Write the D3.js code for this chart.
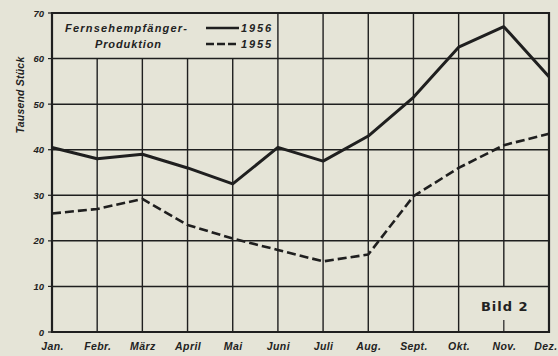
<!DOCTYPE html>
<html>
<head>
<meta charset="utf-8">
<script src="https://cdn.jsdelivr.net/npm/d3@7"></script>
<style>
  html, body { margin: 0; padding: 0; background: #e5e4d7; }
  svg { display: block; }
  text { fill: #222; }
</style>
</head>
<body>
<svg id="chart" width="558" height="356"></svg>
<script>
// Monthly TV receiver production, thousand units
const months = ["Jan.", "Febr.", "März", "April", "Mai", "Juni", "Juli", "Aug.", "Sept.", "Okt.", "Nov.", "Dez."];
const prod1956 = [40.5, 38, 39, 36, 32.5, 40.5, 37.5, 43, 51.5, 62.5, 67, 56];
const prod1955 = [26, 27, 29.2, 23.5, 20.5, 18, 15.5, 17, 29.8, 36, 41, 43.5];
const yTicks = [0, 10, 20, 30, 40, 50, 60, 70];

const svg = d3.select("#chart");
const ink = "#1f1f1f";
const pLeft = 52, pRight = 549, pTop = 13, pBottom = 332;
const labelFont = "Liberation Sans, Arial, sans-serif";

const x = d3.scalePoint().domain(months).range([pLeft, pRight]);
const y = d3.scaleLinear().domain([0, 70]).range([pBottom, pTop]);

const g = svg.append("g");

// legend panel occupies the top band over the first six months
const legendRight = x("Juni");
const legendBottom = y(60);
// caption box in the lower right corner
const boxLeft = x("Okt."), boxTop = y(10);

// horizontal grid lines
g.selectAll("line.h").data(yTicks.filter(d => d > 0 && d < 70)).join("line")
  .attr("x1", pLeft).attr("x2", pRight)
  .attr("y1", d => y(d)).attr("y2", d => y(d))
  .attr("stroke", ink).attr("stroke-width", 1.5);

// vertical grid lines
const inner = months.slice(1, -1);
g.selectAll("line.v").data(inner).join("line")
  .attr("x1", d => x(d)).attr("x2", d => x(d))
  .attr("y1", d => x(d) < legendRight - 1 ? legendBottom : pTop)
  .attr("y2", d => (x(d) > boxLeft + 1) ? boxTop : pBottom)
  .attr("stroke", ink).attr("stroke-width", 1.4);

// small tick under the caption
g.append("line")
  .attr("x1", x("Nov.")).attr("x2", x("Nov."))
  .attr("y1", pBottom - 12).attr("y2", pBottom)
  .attr("stroke", ink).attr("stroke-width", 1.2);

// frame
g.append("path")
  .attr("d", `M${pLeft},${pTop}H${pRight}V${pBottom}H${pLeft}Z`)
  .attr("fill", "none").attr("stroke", ink).attr("stroke-width", 2.2);

// y tick labels
const yAxis = svg.append("g")
  .attr("transform", `translate(${pLeft - 6},0)`)
  .call(d3.axisLeft(y).tickValues(yTicks).tickSize(0).tickPadding(2));
yAxis.select(".domain").remove();
yAxis.selectAll("text")
  .attr("font-family", labelFont)
  .attr("font-size", 9.5).attr("font-weight", "bold").attr("font-style", "italic")
  .attr("fill", "#2a2a2a");
yAxis.selectAll(".tick line").remove();
// short marks beside the value labels
svg.selectAll("line.ym").data(yTicks).join("line")
  .attr("x1", pLeft - 4).attr("x2", pLeft)
  .attr("y1", d => y(d)).attr("y2", d => y(d))
  .attr("stroke", ink).attr("stroke-width", 1.2);

// month labels
const xAxis = svg.append("g")
  .attr("transform", `translate(0,${pBottom + 7})`)
  .call(d3.axisBottom(x).tickSize(0).tickPadding(4));
xAxis.select(".domain").remove();
xAxis.selectAll("text")
  .attr("font-family", labelFont)
  .attr("font-size", 10.5).attr("font-weight", "bold").attr("font-style", "italic")
  .attr("letter-spacing", 0.4)
  .attr("fill", "#2a2a2a");
// keep the last month label inside the page edge
xAxis.selectAll(".tick").filter(d => d === months[months.length - 1]).select("text")
  .attr("text-anchor", "end").attr("x", 557 - pRight);

// axis title
svg.append("text")
  .attr("transform", `translate(24,95) rotate(-90)`)
  .attr("text-anchor", "middle")
  .attr("font-family", labelFont)
  .attr("font-size", 10.5).attr("font-style", "italic").attr("font-weight", "bold")
  .attr("letter-spacing", 0.2)
  .text("Tausend Stück");

// series
const line = d3.line().x((d, i) => x(months[i])).y(d => y(d));
g.append("path").datum(prod1955)
  .attr("d", line).attr("fill", "none")
  .attr("stroke", ink).attr("stroke-width", 2.6)
  .attr("stroke-dasharray", "9,4").attr("stroke-linejoin", "round");
g.append("path").datum(prod1956)
  .attr("d", line).attr("fill", "none")
  .attr("stroke", ink).attr("stroke-width", 3).attr("stroke-linejoin", "round");

// legend
const lg = svg.append("g")
  .attr("font-family", labelFont)
  .attr("font-style", "italic").attr("font-weight", "bold")
  .attr("font-size", 11);
lg.append("text").attr("x", 126).attr("y", 32).attr("text-anchor", "middle")
  .attr("textLength", 122).attr("lengthAdjust", "spacing")
  .text("Fernsehempfänger-");
lg.append("text").attr("x", 128).attr("y", 48).attr("text-anchor", "middle")
  .attr("textLength", 66).attr("lengthAdjust", "spacing")
  .text("Produktion");
const legendItems = [["1956", null, 28], ["1955", "8,3", 44]];
legendItems.forEach(([label, dash, ly]) => {
  lg.append("line").attr("x1", 206).attr("x2", 239).attr("y1", ly).attr("y2", ly)
    .attr("stroke", ink).attr("stroke-width", 2.6)
    .attr("stroke-dasharray", dash);
  lg.append("text").attr("x", 241).attr("y", ly + 4).attr("textLength", 30)
    .attr("lengthAdjust", "spacing").text(label);
});

// caption
svg.append("text")
  .attr("x", (boxLeft + pRight) / 2 + 1).attr("y", 311)
  .attr("text-anchor", "middle")
  .attr("font-family", "DejaVu Sans, sans-serif")
  .attr("font-weight", "bold").attr("font-size", 13)
  .attr("letter-spacing", 1)
  .text("Bild 2");
</script>
</body>
</html>
